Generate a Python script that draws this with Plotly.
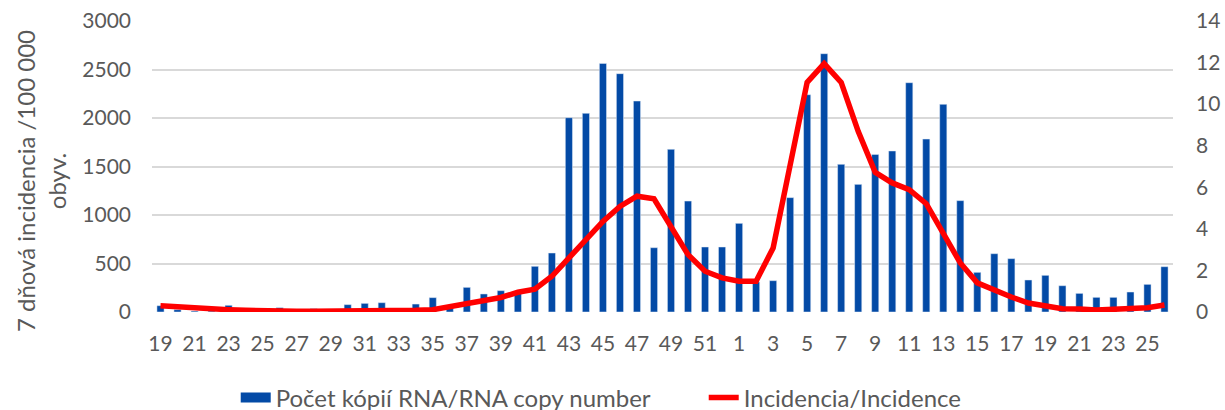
import plotly.graph_objects as go

weeks = list(range(19, 53)) + list(range(1, 27))
week_labels = [str(w) for w in weeks]

rna_copies = [65, 24, 10, 10, 69, 10, 5, 45, 5, 34, 10, 76, 89, 96, 10, 82, 148, 40,
              254, 186, 220, 196, 471, 608, 2003, 2048, 2563, 2457, 2175, 663, 1677,
              1144, 670, 670,
              914, 310, 323, 1179, 2240, 2663, 1522, 1316, 1625, 1660, 2364, 1783, 2141,
              1148, 409, 601, 550, 330, 378, 271, 192, 151, 151, 206, 285, 467]

incidence = [0.30, 0.24, 0.18, 0.15, 0.11, 0.08, 0.05, 0.04, 0.04, 0.04, 0.04, 0.05,
             0.05, 0.05, 0.06, 0.08, 0.11, 0.25, 0.43, 0.57, 0.70, 0.95, 1.10, 1.72,
             2.60, 3.48, 4.36, 5.08, 5.57, 5.45, 4.12, 2.76, 1.96, 1.64,
             1.48, 1.48, 3.08, 7.09, 11.05, 11.95, 11.05, 8.69, 6.72, 6.21, 5.89, 5.21,
             3.80, 2.36, 1.40, 1.03, 0.72, 0.43, 0.27, 0.16, 0.14, 0.10, 0.13, 0.14,
             0.21, 0.34]

left_ticks = [0, 500, 1000, 1500, 2000, 2500, 3000]
right_ticks = [0, 2, 4, 6, 8, 10, 12, 14]

bar_name = "Počet kópií RNA/RNA copy number"
line_name = "Incidencia/Incidence"
y_title = "7 dňová incidencia /100 000<br>obyv."

x = list(range(len(weeks)))
font_family = "Lato, 'Noto Sans', sans-serif"
grey = "#595959"
blue = "#034AA6"
red = "#FF0000"

fig = go.Figure()
fig.add_trace(go.Bar(
    x=x, y=rna_copies, name=bar_name, showlegend=False,
    marker=dict(color=blue), yaxis="y",
))
# legend entry for the bars (wide rectangle swatch, as in the reference)
fig.add_trace(go.Scatter(
    x=[None], y=[None], name=bar_name, mode="lines",
    line=dict(color=blue, width=12), yaxis="y", hoverinfo="skip",
))
fig.add_trace(go.Scatter(
    x=x, y=incidence, name=line_name, mode="lines",
    line=dict(color=red, width=5.5), yaxis="y2",
))

fig.update_layout(
    width=1225, height=410,
    margin=dict(l=152, r=52, t=21, b=98, autoexpand=False),
    paper_bgcolor="white", plot_bgcolor="white",
    font=dict(family=font_family, size=21, color=grey),
    bargap=0.58,
    showlegend=True,
    legend=dict(orientation="h", xref="paper", yref="paper",
                x=0.082, xanchor="left", y=-0.2955, yanchor="middle",
                font=dict(size=24, color=grey), entrywidth=423,
                entrywidthmode="pixels", tracegroupgap=0),
    xaxis=dict(
        range=[-0.5, len(weeks) - 0.5], automargin=False,
        tickmode="array", tickvals=x[::2], ticktext=week_labels[::2],
        showgrid=False, zeroline=False, showline=False, ticks="",
        tickfont=dict(size=21, color=grey), ticklabelstandoff=17,
    ),
    yaxis=dict(
        range=[0, 3000], tickvals=left_ticks, automargin=False,
        showgrid=True, gridcolor="#D9D9D9", gridwidth=1.5,
        zeroline=False, showline=False, ticks="",
        tickfont=dict(size=21, color=grey), ticklabelstandoff=20,
    ),
    yaxis2=dict(
        range=[0, 14], tickvals=right_ticks, overlaying="y", side="right",
        automargin=False,
        showgrid=False, zeroline=False, showline=False, ticks="",
        tickfont=dict(size=21, color=grey), ticklabelstandoff=22,
    ),
    annotations=[dict(
        text=y_title, textangle=-90, showarrow=False,
        xref="paper", yref="paper", x=-0.1087, y=0.45,
        xanchor="center", yanchor="middle",
        font=dict(size=24, color=grey),
    )],
)

fig.write_html("out.html", config={"displayModeBar": False},
               post_script="document.body.style.margin='0px';")
